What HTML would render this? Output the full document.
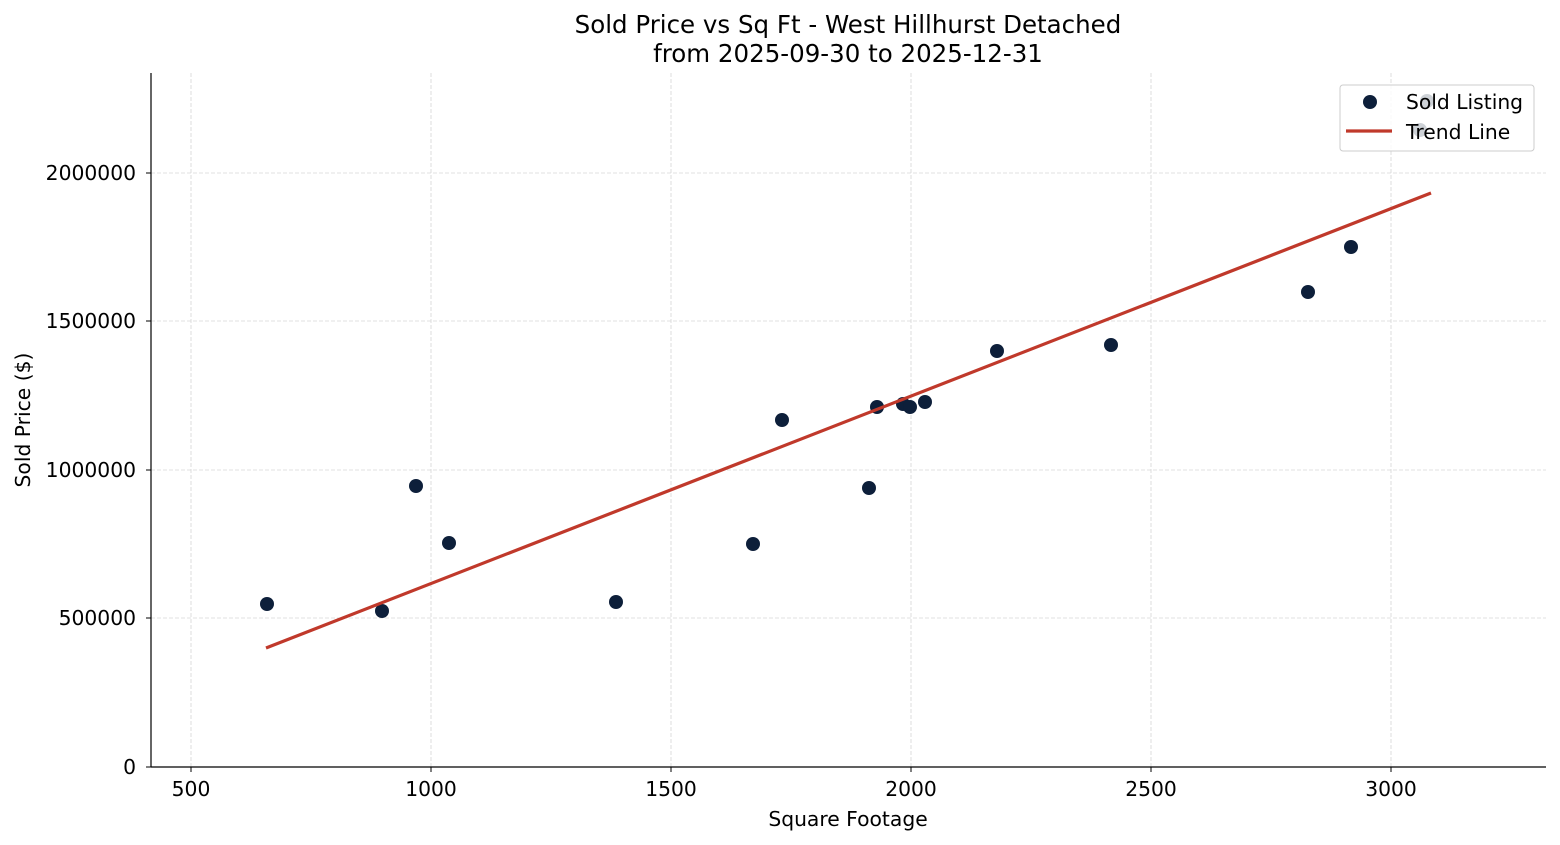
<!DOCTYPE html>
<html><head><style>body{margin:0;background:#fff}svg{display:block;font-family:"DejaVu Sans","Liberation Sans",sans-serif}</style></head><body>
<svg width="1560" height="845" xmlns="http://www.w3.org/2000/svg">
<g stroke="#d6d6d6" stroke-width="0.8" stroke-dasharray="4,2">
<line x1="191" y1="73" x2="191" y2="767"/><line x1="431" y1="73" x2="431" y2="767"/><line x1="671" y1="73" x2="671" y2="767"/><line x1="911" y1="73" x2="911" y2="767"/><line x1="1151" y1="73" x2="1151" y2="767"/><line x1="1391" y1="73" x2="1391" y2="767"/>
<line x1="151" y1="618" x2="1546" y2="618"/><line x1="151" y1="470" x2="1546" y2="470"/><line x1="151" y1="321" x2="1546" y2="321"/><line x1="151" y1="173" x2="1546" y2="173"/>
</g>
<g fill="#0d1f3a">
<circle cx="267" cy="604" r="7"/><circle cx="382" cy="611" r="7"/><circle cx="416" cy="486" r="7"/><circle cx="449" cy="543" r="7"/><circle cx="616" cy="602" r="7"/><circle cx="753" cy="544" r="7"/><circle cx="782" cy="420" r="7"/><circle cx="869" cy="488" r="7"/><circle cx="877" cy="407" r="7"/><circle cx="903" cy="404" r="7"/><circle cx="910" cy="407" r="7"/><circle cx="925" cy="402" r="7"/><circle cx="997" cy="351" r="7"/><circle cx="1111" cy="345" r="7"/><circle cx="1308" cy="292" r="7"/><circle cx="1351" cy="247" r="7"/><circle cx="1427" cy="101" r="7"/><circle cx="1420" cy="130" r="7"/>
</g>
<line x1="266" y1="648" x2="1431" y2="193" stroke="#c0392b" stroke-width="3.2"/>
<g stroke="#000" stroke-width="1.2"><line x1="151" y1="73" x2="151" y2="767"/><line x1="151" y1="767" x2="1546" y2="767"/></g>
<g stroke="#000"><line x1="191" y1="767" x2="191" y2="772"/><line x1="431" y1="767" x2="431" y2="772"/><line x1="671" y1="767" x2="671" y2="772"/><line x1="911" y1="767" x2="911" y2="772"/><line x1="1151" y1="767" x2="1151" y2="772"/><line x1="1391" y1="767" x2="1391" y2="772"/>
<line x1="146" y1="767" x2="151" y2="767"/><line x1="146" y1="618" x2="151" y2="618"/><line x1="146" y1="470" x2="151" y2="470"/><line x1="146" y1="321" x2="151" y2="321"/><line x1="146" y1="173" x2="151" y2="173"/></g>
<g font-size="20.3" text-anchor="middle" fill="#000">
<text x="191" y="796">500</text><text x="431" y="796">1000</text><text x="671" y="796">1500</text><text x="911" y="796">2000</text><text x="1151" y="796">2500</text><text x="1391" y="796">3000</text>
</g>
<g font-size="20.3" text-anchor="end"><text x="136" y="774">0</text><text x="136" y="625">500000</text><text x="136" y="477">1000000</text><text x="136" y="328">1500000</text><text x="136" y="180">2000000</text></g>
<text x="848" y="826" font-size="20.3" text-anchor="middle">Square Footage</text>
<text transform="translate(30,420) rotate(-90)" font-size="20.3" text-anchor="middle">Sold Price ($)</text>
<text x="848" y="33" font-size="24.5" text-anchor="middle">Sold Price vs Sq Ft - West Hillhurst Detached</text>
<text x="848" y="62" font-size="24.5" text-anchor="middle">from 2025-09-30 to 2025-12-31</text>
<rect x="1340" y="85" width="194" height="66" rx="3" fill="#fff" fill-opacity="0.8" stroke="#ccc"/>
<circle cx="1370" cy="102" r="7" fill="#0d1f3a"/>
<line x1="1346" y1="131" x2="1392" y2="131" stroke="#c0392b" stroke-width="3.2"/>
<text x="1406" y="109" font-size="20.3">Sold Listing</text>
<text x="1406" y="139" font-size="20.3">Trend Line</text>
</svg>
</body></html>
